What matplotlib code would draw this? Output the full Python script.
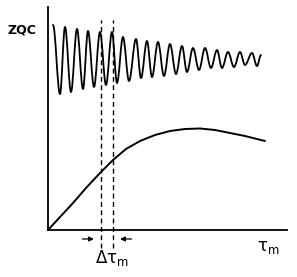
import numpy as np
import matplotlib
matplotlib.use("Agg")
import matplotlib.pyplot as plt
from matplotlib.path import Path
from matplotlib.patches import PathPatch

plt.rcParams['mathtext.default'] = 'regular'
plt.rcParams['font.family'] = ['DejaVu Sans']

# ZQC oscillation: alternating extrema (peak, trough, ...)
osc_x = [5, 12, 17, 23, 29, 35, 40, 46, 52, 58, 64, 69, 75, 81, 88, 93, 99, 104,
         110, 116, 122, 128, 134, 139, 145, 151, 157, 163, 169, 174, 180, 186,
         192, 197, 204, 209, 213]
osc_y = [205, 136, 203, 138, 201, 141, 199, 143, 198, 145, 198, 147, 193, 149,
         191, 152, 189, 153, 188, 154, 186, 156, 184, 158, 182, 160, 182, 162,
         180, 162, 178, 163, 178, 165, 177, 164, 175]

# build-up curve below
curve_x = [0, 12, 25, 38, 52, 65, 78, 92, 107, 122, 137, 152, 167, 182, 197, 217]
curve_y = [0, 13, 27, 42, 57, 70, 81, 89, 95, 99, 101, 101.5, 100, 97, 94, 89]

# mixing-time window (dashed lines)
window_x = [52.7, 65.3]

fig = plt.figure(figsize=(2.97, 2.77), dpi=100)
ax = fig.add_axes([48 / 297, 47 / 277, 239 / 297, 223 / 277])
ax.set_xlim(0, 239)
ax.set_ylim(0, 223)

for side in ['top', 'right']:
    ax.spines[side].set_visible(False)
for side in ['left', 'bottom']:
    ax.spines[side].set_linewidth(1.3)
ax.set_xticks([])
ax.set_yticks([])

# oscillation drawn as cubic Bezier pieces between extrema (flat tangents)
k = 0.364
verts = [(osc_x[0], osc_y[0])]
codes = [Path.MOVETO]
for i in range(len(osc_x) - 1):
    x0, y0 = osc_x[i], osc_y[i]
    x1, y1 = osc_x[i + 1], osc_y[i + 1]
    dx = x1 - x0
    verts += [(x0 + k * dx, y0), (x1 - k * dx, y1), (x1, y1)]
    codes += [Path.CURVE4] * 3
ax.add_patch(PathPatch(Path(verts, codes), fill=False, lw=1.3, color='black',
                       joinstyle='round', capstyle='round'))

ax.plot(curve_x, curve_y, color='black', lw=1.4, solid_capstyle='round',
        solid_joinstyle='round')

for wx in window_x:
    ax.plot([wx, wx], [-18, 210], color='black', lw=1.0,
            linestyle=(0, (3.5, 2.5)), clip_on=False)

ax.annotate('', xy=(window_x[0] - 4, -9), xytext=(window_x[0] - 21, -9),
            arrowprops=dict(arrowstyle='-|>', color='black', lw=0.9,
                            mutation_scale=7), annotation_clip=False)
ax.annotate('', xy=(window_x[1] + 4, -9), xytext=(window_x[1] + 21, -9),
            arrowprops=dict(arrowstyle='-|>', color='black', lw=0.9,
                            mutation_scale=7), annotation_clip=False)

ax.text(-26, 200, 'ZQC', fontsize=9, fontweight='bold', ha='center',
        va='center')
ax.text(220, -17, 'τ$_{m}$', fontsize=12, ha='center', va='center')
ax.text(64, -28, 'Δτ$_{m}$', fontsize=12, ha='center', va='center')

fig.savefig('out.png', dpi=100)
